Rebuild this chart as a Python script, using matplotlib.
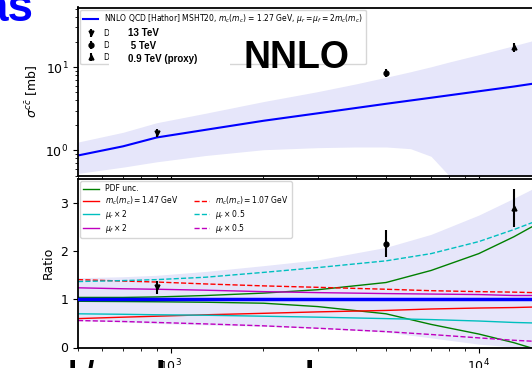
import numpy as np
import matplotlib
matplotlib.use("Agg")
import matplotlib.pyplot as plt
from matplotlib.lines import Line2D
from matplotlib.patches import Rectangle

# sqrt(s) grid [GeV] for the theory curves
sqrt_s = [500, 700, 900, 1300, 2000, 3000, 5000, 7000, 10000, 13000, 15000, 20000]

# absolute NNLO prediction [mb]
sigma_nnlo = [0.87, 1.12, 1.43, 1.77, 2.27, 2.79, 3.63, 4.29, 5.13, 5.85, 6.33, 7.37]

# total uncertainty band, top panel (absolute)
band_x = [500, 700, 900, 1300, 2000, 3000, 4000, 5000, 6000, 7000, 8000, 10000, 13000, 20000]
band_lo = [0.53, 0.63, 0.73, 0.87, 1.02, 1.08, 1.10, 1.10, 1.05, 0.85, 0.50, 0.25, 0.08, 0.02]
band_hi = [1.26, 1.65, 2.15, 2.8, 3.86, 5.08, 6.3, 7.55, 8.8, 10.1, 11.5, 14.1, 18.1, 27.6]

# total uncertainty band, ratio panel
ratio_band_lo = [0.56, 0.53, 0.50, 0.47, 0.44, 0.40, 0.32, 0.20, 0.07, 0.01, 0.0, 0.0]
ratio_band_hi = [1.45, 1.47, 1.50, 1.58, 1.70, 1.82, 2.08, 2.35, 2.75, 3.10, 3.30, 3.75]

# variations (ratio to central)
pdf_up = [1.04, 1.04, 1.05, 1.08, 1.13, 1.20, 1.35, 1.60, 1.95, 2.30, 2.52, 3.10]
pdf_dn = [0.96, 0.955, 0.95, 0.94, 0.92, 0.85, 0.70, 0.48, 0.28, 0.10, -0.02, -0.30]
mc_147 = [0.60, 0.63, 0.65, 0.68, 0.71, 0.74, 0.77, 0.80, 0.82, 0.83, 0.84, 0.86]
mc_107 = [1.41, 1.38, 1.36, 1.32, 1.28, 1.25, 1.21, 1.18, 1.16, 1.15, 1.14, 1.13]
mur_x2 = [0.70, 0.69, 0.68, 0.67, 0.65, 0.63, 0.60, 0.58, 0.55, 0.52, 0.51, 0.49]
mur_x05 = [1.37, 1.39, 1.41, 1.46, 1.56, 1.66, 1.80, 1.95, 2.20, 2.45, 2.60, 2.85]
muf_x2 = [1.24, 1.22, 1.21, 1.19, 1.16, 1.14, 1.12, 1.11, 1.10, 1.08, 1.08, 1.07]
muf_x05 = [0.56, 0.54, 0.52, 0.49, 0.45, 0.40, 0.33, 0.27, 0.20, 0.15, 0.13, 0.08]

# data points
data_x = [900, 5000, 13000]
data_markers = ['v', 'o', '^']
data_labels = ['Data, 0.9 TeV', 'Data, 5 TeV', 'Data, 13 TeV']
data_sigma = [1.63, 8.6, 17.4]
data_sigma_err = [0.2, 1.0, 2.2]
data_ratio = [1.25, 2.16, 2.9]
data_ratio_err = [0.14, 0.28, 0.4]

W, H = 532, 368
fig = plt.figure(figsize=(W / 100, H / 100), dpi=100)

left = 78 / W
width = 493.5 / W
ax0 = fig.add_axes([left, 1 - 175.5 / H, width, (175.5 - 7.5) / H])
ax1 = fig.add_axes([left, 1 - 347.5 / H, width, (347.5 - 179) / H], sharex=ax0)

for ax in (ax0, ax1):
	for s in ax.spines.values():
		s.set_linewidth(1.3)
	ax.tick_params(labelsize=9)

###########################################################################
# top panel
ax0.fill_between(band_x, band_lo, band_hi, color='lavender', lw=0, zorder=0)
ax0.plot(sqrt_s, sigma_nnlo, color='blue', lw=1.5,
		 label=r'NNLO QCD [Hathor] MSHT20, $m_c(m_c)$ = 1.27 GeV, $\mu_r = \mu_f = 2m_c(m_c)$')
for i in range(3):
	ax0.errorbar(data_x[i], data_sigma[i], yerr=data_sigma_err[i], fmt=data_markers[i],
				 color='black', ms=3.5, elinewidth=1.5, capsize=0, label=data_labels[i])
ax0.set_xscale('log')
ax0.set_yscale('log')
ax0.set_xlim(500, 20000)
ax0.set_ylim(0.5, 52)
ax0.set_ylabel(r'$\sigma^{c\bar{c}}$ [mb]', fontsize=9)
ax0.tick_params(axis='x', labelbottom=False)
ax0.legend(loc='upper left', fontsize=5.5, frameon=True, borderaxespad=0.3,
		   labelspacing=0.4, borderpad=0.35)

# white box with the energy labels on top of the legend
fig.add_artist(Rectangle((109 / W, 1 - 66 / H), 121 / W, 39 / H, transform=fig.transFigure,
						 facecolor='white', edgecolor='none', zorder=9))
fig.text(128 / W, 1 - 46 / H, '13 TeV\n 5 TeV\n0.9 TeV (proxy)', ha='left', va='center',
		 fontsize=7, fontweight='bold', family='Liberation Sans', linespacing=1.35, zorder=10)
ax0.text(0.442, 0.70, 'NNLO', transform=ax0.transAxes, ha='center', va='center',
		 fontsize=27, fontweight='bold', family='Liberation Sans', zorder=10)

###########################################################################
# ratio panel
ax1.fill_between(sqrt_s, ratio_band_lo, ratio_band_hi, color='lavender', lw=0, zorder=0)
ax1.axhline(1, color='blue', lw=2.5, zorder=3)
ax1.plot(sqrt_s, pdf_up, color='green', lw=1, label='PDF unc.')
ax1.plot(sqrt_s, pdf_dn, color='green', lw=1)
ax1.plot(sqrt_s, mc_147, color='red', lw=1, label=r'$m_c(m_c) = 1.47$ GeV')
ax1.plot(sqrt_s, mur_x2, color='c', lw=1, label=r'$\mu_r \times 2$')
ax1.plot(sqrt_s, muf_x2, color='m', lw=1, label=r'$\mu_f \times 2$')
ax1.plot(sqrt_s, mc_107, color='red', lw=1, ls='--', label=r'$m_c(m_c) = 1.07$ GeV')
ax1.plot(sqrt_s, mur_x05, color='c', lw=1, ls='--', label=r'$\mu_r \times 0.5$')
ax1.plot(sqrt_s, muf_x05, color='m', lw=1, ls='--', label=r'$\mu_f \times 0.5$')
for i in range(3):
	ax1.errorbar(data_x[i], data_ratio[i], yerr=data_ratio_err[i], fmt=data_markers[i],
				 color='black', ms=3.5, elinewidth=1.5, capsize=0, zorder=5)
ax1.set_ylim(0, 3.5)
ax1.set_ylabel('Ratio', fontsize=9)

h, l = ax1.get_legend_handles_labels()
blank = Line2D([], [], color='none')
handles = h[:4] + [blank] + h[4:]
labels = l[:4] + [''] + l[4:]
ax1.legend(handles, labels, loc='upper left', ncol=2, fontsize=5.5, labelspacing=0.12,
		   borderaxespad=0.3)

###########################################################################
# bits of surrounding slide text that fall into the crop
fig.text(34 / W, 1 - 21 / H, 'as', ha='right', va='baseline', fontsize=33,
		 fontweight='bold', color='blue', family='Liberation Sans')
for xp, s in [(72, 'l'), (89, '/'), (160, 'l'), (309, 'l')]:
	fig.text(xp / W, 1 - 360 / H, s, ha='center', va='top', fontsize=24,
			 fontweight='bold', family='Liberation Sans')

fig.savefig('out.png', dpi=100)
